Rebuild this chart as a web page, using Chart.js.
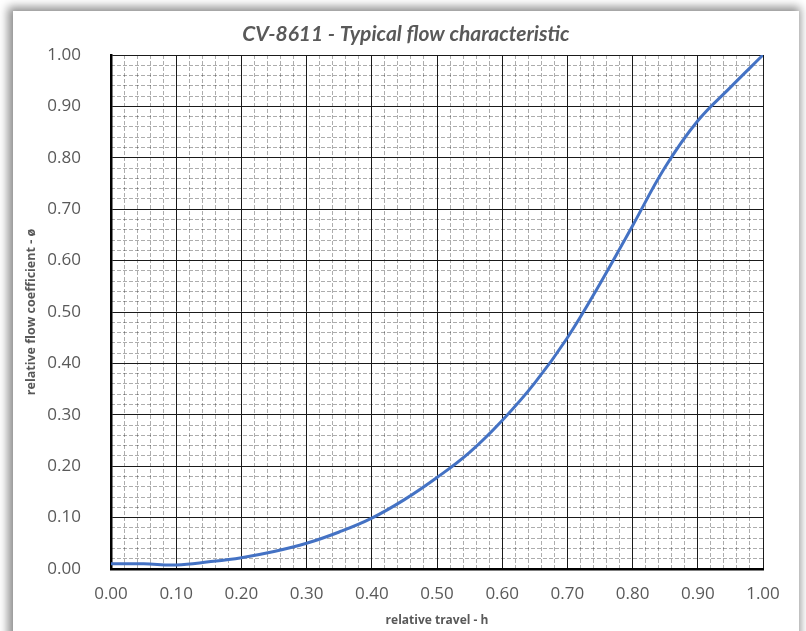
<!DOCTYPE html>
<html>
<head>
<meta charset="utf-8">
<script src="https://cdn.jsdelivr.net/npm/chart.js@4/dist/chart.umd.min.js"></script>
<style>
  html, body { margin: 0; padding: 0; background: #ffffff; width: 806px; height: 631px; overflow: hidden; }
  #frame { position: absolute; left: 13px; top: 11px; width: 786px; height: 650px; background: #fff;
           box-shadow: -2px -1px 9px 3px rgba(0,0,0,0.45); }
  #wrap { position: absolute; left: 13px; top: 11px; width: 786px; height: 620px; }
</style>
</head>
<body>
<div id="frame"></div>
<div id="wrap"><canvas id="c" width="786" height="620"></canvas></div>
<script>
// Data
const travel = [0.00, 0.05, 0.10, 0.15, 0.20, 0.25, 0.30, 0.35, 0.40, 0.45, 0.50, 0.55, 0.60, 0.65, 0.70, 0.75, 0.80, 0.85, 0.90, 0.95, 1.00];
const flowCoefficient = [0.010, 0.010, 0.008, 0.014, 0.022, 0.034, 0.050, 0.072, 0.099, 0.135, 0.178, 0.227, 0.289, 0.362, 0.450, 0.555, 0.668, 0.782, 0.872, 0.937, 1.000];
const axisTickLabels = ['0.00','0.10','0.20','0.30','0.40','0.50','0.60','0.70','0.80','0.90','1.00'];
const chartTitle = 'CV-8611 - Typical flow characteristic';
const xTitle = 'relative travel - h';
const yTitle = 'relative flow coefficient - ø';

const points = travel.map((h, i) => ({ x: h, y: flowCoefficient[i] }));
const tickFont = { family: "'Open Sans', sans-serif", size: 17 };
const labelColor = '#595959';

function fmt(v) {
  const idx = Math.round(v * 10);
  return Math.abs(v * 10 - idx) < 1e-6 ? axisTickLabels[idx] : '';
}

new Chart(document.getElementById('c'), {
  type: 'line',
  data: {
    datasets: [{
      data: points,
      borderColor: '#4472C4',
      borderWidth: 3,
      pointRadius: 0,
      fill: false,
      tension: 0.4,
      xAxisID: 'x',
      yAxisID: 'y'
    }]
  },
  options: {
    responsive: false,
    animation: false,
    layout: { padding: { top: 11, right: 0, bottom: 0, left: 0 } },
    plugins: {
      legend: { display: false },
      tooltip: { enabled: false },
      title: {
        display: true,
        text: chartTitle,
        color: labelColor,
        font: { family: "Lato, sans-serif", size: 21, weight: 'bold', style: 'italic', lineHeight: 1.2 },
        padding: { top: 0, bottom: 7.8 }
      }
    },
    scales: {
      x2: {
        type: 'linear', position: 'bottom', min: 0, max: 1, z: -1,
        ticks: { display: false, stepSize: 0.02 },
        grid: { color: 'rgba(0,0,0,0.32)', lineWidth: 1, drawTicks: false },
        border: { display: false, dash: [4, 2] },
        afterFit: s => { s.height = 0; }
      },
      y2: {
        type: 'linear', position: 'left', min: 0, max: 1, z: -1,
        ticks: { display: false, stepSize: 0.02 },
        grid: { color: 'rgba(0,0,0,0.32)', lineWidth: 1, drawTicks: false },
        border: { display: false, dash: [4, 2] },
        afterFit: s => { s.width = 0; }
      },
      yRight: {
        type: 'linear', position: 'right', min: 0, max: 1,
        ticks: { display: false },
        grid: { display: false, drawTicks: false },
        border: { display: false },
        afterFit: s => { s.width = 36; }
      },
      x: {
        type: 'linear', position: 'bottom', min: 0, max: 1,
        ticks: { stepSize: 0.1, color: labelColor, font: tickFont, padding: 15, maxRotation: 0, autoSkip: false, callback: v => fmt(v) },
        grid: { color: '#1a1a1a', lineWidth: 1, drawTicks: false },
        border: { color: '#000', width: 2.5 },
        title: { display: true, text: xTitle, color: labelColor,
                 font: { family: "'Open Sans', sans-serif", size: 12, weight: 'bold', lineHeight: 1.2 },
                 padding: { top: 0, bottom: 3 } },
        afterFit: s => { s.height = 62; }
      },
      y: {
        type: 'linear', position: 'left', min: 0, max: 1,
        ticks: { stepSize: 0.1, color: labelColor, font: tickFont, padding: 30, autoSkip: false, callback: v => fmt(v) },
        grid: { color: '#1a1a1a', lineWidth: 1, drawTicks: false },
        border: { color: '#000', width: 2.5 },
        title: { display: true, text: yTitle, color: labelColor,
                 font: { family: "'Open Sans', sans-serif", size: 12.5, weight: 'bold', lineHeight: 1.2 },
                 padding: { top: 10.5, bottom: 0 } },
        afterFit: s => { s.width = 98; }
      }
    }
  }
});
</script>
</body>
</html>
